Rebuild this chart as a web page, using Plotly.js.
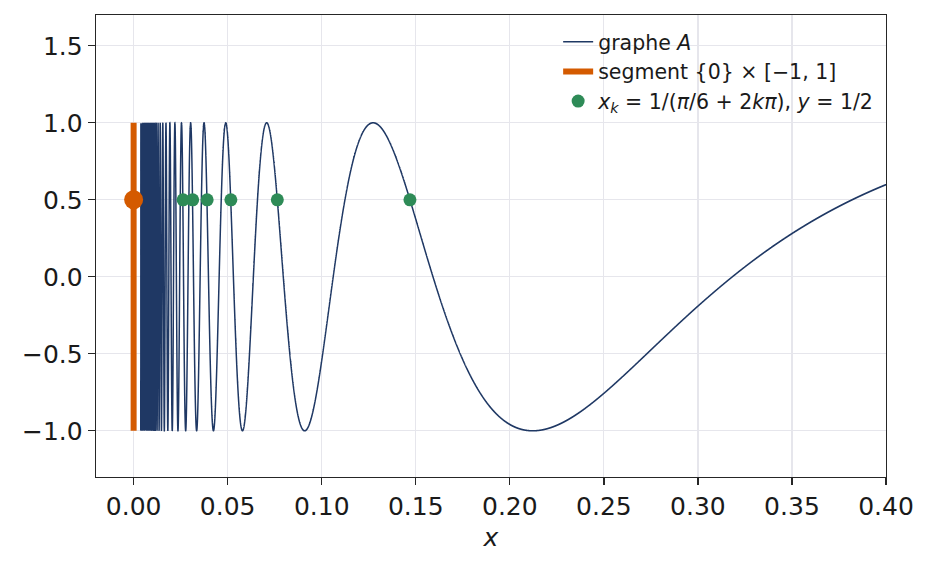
<!DOCTYPE html>
<html>
<head>
<meta charset="utf-8">
<script src="https://cdn.plot.ly/plotly-3.0.1.min.js"></script>
<style>html,body{margin:0;padding:0;background:#fff;}#chart{width:931px;height:569px;}</style>
</head>
<body>
<div id="chart"></div>
<script>
// Graph A of y = sin(1/x) on (0, 0.4]
const curveDomain = [0.0038, 0.4];
const curveSamples = 60000;

// Vertical segment {0} x [-1, 1]
const segmentX = [0, 0];
const segmentY = [-1, 1];

// Points x_k = 1/(pi/6 + 2k pi), y = 1/2  (k = 1..6)
const pointsX = [0.1469, 0.0764, 0.0517, 0.0391, 0.0314, 0.0263];
const pointsY = [0.5, 0.5, 0.5, 0.5, 0.5, 0.5];

// Limit point on the segment
const limitX = [0];
const limitY = [0.5];

const xTicks = [0.00, 0.05, 0.10, 0.15, 0.20, 0.25, 0.30, 0.35, 0.40];
const yTicks = [-1.0, -0.5, 0.0, 0.5, 1.0, 1.5];

const curveX = [], curveY = [];
for (let i = 0; i < curveSamples; i++) {
  const x = curveDomain[0] + (curveDomain[1] - curveDomain[0]) * i / (curveSamples - 1);
  curveX.push(x);
  curveY.push(Math.sin(1 / x));
}

const navy = '#1f3864';
const orange = '#d45a00';
const green = '#2e8b57';
const FONT = 'DejaVu Sans, sans-serif';

const traces = [
  {x: curveX, y: curveY, type: 'scatter', mode: 'lines', name: 'graphe <i>A</i>',
   line: {color: navy, width: 1.5, simplify: false}, hoverinfo: 'skip'},
  {x: segmentX, y: segmentY, type: 'scatter', mode: 'lines', name: 'segment {0} × [−1, 1]',
   line: {color: orange, width: 6}},
  {x: pointsX, y: pointsY, type: 'scatter', mode: 'markers',
   name: '<i>x<sub>k</sub></i> = 1/(<i>π</i>/6 + 2<i>kπ</i>), <i>y</i> = 1/2',
   marker: {color: green, size: 13}},
  {x: limitX, y: limitY, type: 'scatter', mode: 'markers', showlegend: false,
   marker: {color: orange, size: 19}}
];

const axisCommon = {
  showline: true, mirror: true, linecolor: '#262626', linewidth: 1.3,
  ticks: 'outside', ticklen: 7, tickwidth: 1.3, tickcolor: '#262626',
  showgrid: true, gridcolor: '#e6e6ec', gridwidth: 1.2,
  zeroline: false,
  tickfont: {family: FONT, size: 25, color: '#1a1a1a'}
};

const layout = {
  width: 931, height: 569,
  margin: {l: 96, r: 45, t: 15, b: 92},
  paper_bgcolor: '#fff', plot_bgcolor: '#fff',
  font: {family: FONT, color: '#1a1a1a'},
  xaxis: Object.assign({}, axisCommon, {
    range: [-0.02, 0.40], tickmode: 'array', tickvals: xTicks,
    ticktext: xTicks.map(v => v.toFixed(2)),
    title: {text: '<i>x</i>', font: {family: FONT, size: 25, color: '#1a1a1a'}, standoff: 8}
  }),
  yaxis: Object.assign({}, axisCommon, {
    range: [-1.3, 1.7], tickmode: 'array', tickvals: yTicks,
    ticktext: yTicks.map(v => (v < 0 ? '−' : '') + Math.abs(v).toFixed(1))
  }),
  legend: {
    x: 0.585, y: 0.985, xanchor: 'left', yanchor: 'top',
    bgcolor: 'rgba(255,255,255,0)', borderwidth: 0,
    font: {family: FONT, size: 20.5, color: '#1a1a1a'}
  },
  showlegend: true
};

Plotly.newPlot('chart', traces, layout, {staticPlot: true, displayModeBar: false});
</script>
</body>
</html>
